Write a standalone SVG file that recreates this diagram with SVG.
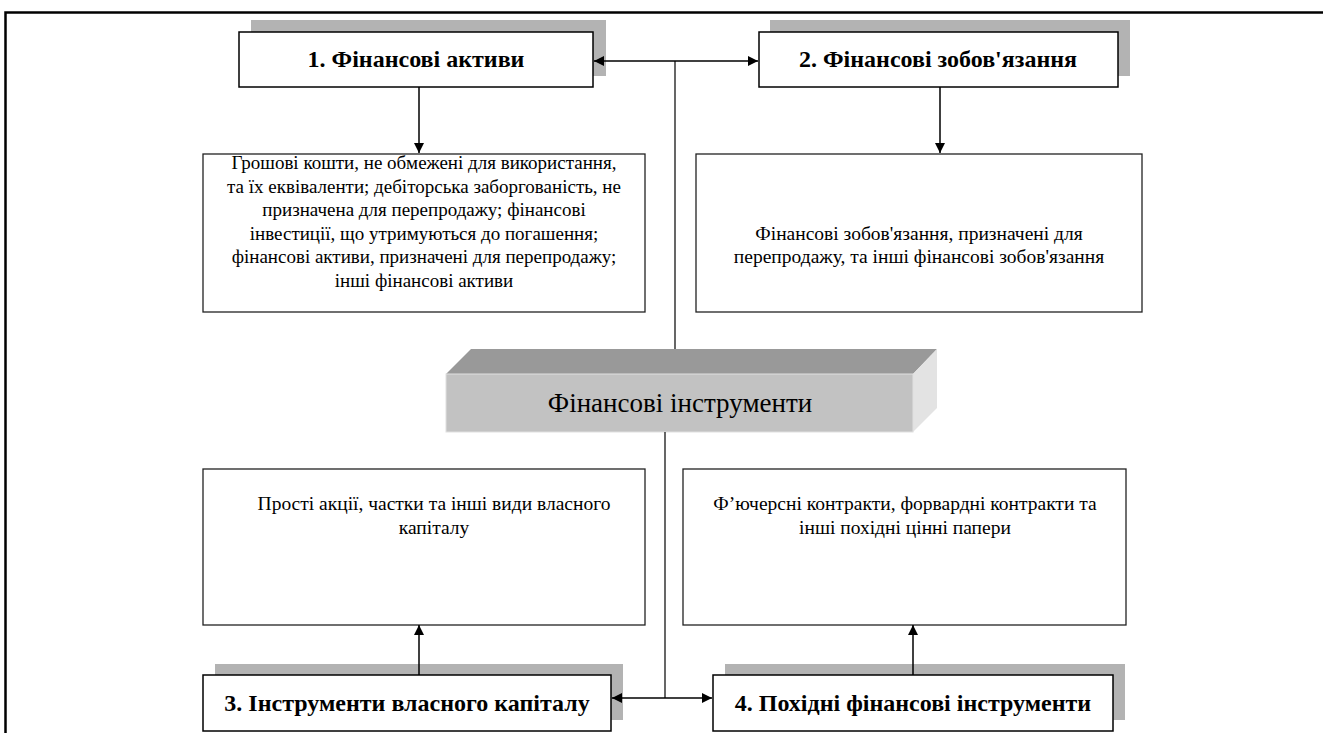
<svg xmlns="http://www.w3.org/2000/svg" width="1323" height="733" viewBox="0 0 1323 733">
<defs>
<style>
.title{font-family:"Liberation Serif","Times New Roman",serif;font-weight:bold;font-size:24px;fill:#000;text-anchor:middle}
.desc{font-family:"Liberation Serif","Times New Roman",serif;font-size:19px;fill:#000;text-anchor:middle}
.desc2{font-family:"Liberation Serif","Times New Roman",serif;font-size:19.5px;fill:#000;text-anchor:middle}
.shadow{fill:#b3b3b3}
.tbox{fill:#fff;stroke:#000;stroke-width:1.5}
.dbox{fill:#fff;stroke:#222;stroke-width:1.3}
.conn{fill:none;stroke:#000;stroke-width:1.5}
.line{fill:none;stroke:#000;stroke-width:1.2}
</style>
<marker id="arr" viewBox="0 0 10 10" refX="10" refY="5" markerWidth="10" markerHeight="10" markerUnits="userSpaceOnUse" orient="auto">
<path d="M0,0 L10,5 L0,10 Z" fill="#000"/>
</marker>
</defs>
<rect width="1323" height="733" fill="#fff"/>
<g id="frame">
<path d="M5.5,733 V12.5 H1323" fill="none" stroke="#000" stroke-width="2.5"/>
</g>
<g id="n1">
<rect class="shadow" x="251" y="20" width="355" height="56"/>
<rect class="tbox" x="239" y="32" width="354" height="55"/>
<text class="title" x="416" y="67">1. Фінансові активи</text>
</g>
<g id="n2">
<rect class="shadow" x="770" y="20" width="360" height="56"/>
<rect class="tbox" x="759" y="32" width="359" height="55"/>
<text class="title" x="938" y="67">2. Фінансові зобов'язання</text>
</g>
<g id="d1">
<rect class="dbox" x="203" y="154" width="442" height="158"/>
<text class="desc" x="424" y="169">Грошові кошти, не обмежені для використання,</text>
<text class="desc" x="424" y="192.6">та їх еквіваленти; дебіторська заборгованість, не</text>
<text class="desc" x="424" y="216.2">призначена для перепродажу; фінансові</text>
<text class="desc" x="424" y="239.8">інвестиції, що утримуються до погашення;</text>
<text class="desc" x="424" y="263.4">фінансові активи, призначені для перепродажу;</text>
<text class="desc" x="424" y="287">інші фінансові активи</text>
</g>
<g id="d2">
<rect class="dbox" x="696" y="154" width="446" height="158"/>
<text class="desc2" x="919" y="240">Фінансові зобов'язання, призначені для</text>
<text class="desc2" x="919" y="263">перепродажу, та інші фінансові зобов'язання</text>
</g>
<g id="center">
<polygon points="446,374 471,349 937,349 913,374" fill="#999999"/>
<polygon points="913,374 937,349 937,408 913,432" fill="#e3e3e3"/>
<rect x="446" y="374" width="467" height="58" fill="#c2c2c2" stroke="#e0e0e0" stroke-width="1"/>
<text x="680" y="412" font-family="Liberation Serif, Times New Roman, serif" font-size="27" text-anchor="middle" fill="#000">Фінансові інструменти</text>
</g>
<g id="d3">
<rect class="dbox" x="203" y="469" width="442" height="156"/>
<text class="desc2" x="434" y="510">Прості акції, частки та інші види власного</text>
<text class="desc2" x="434" y="534">капіталу</text>
</g>
<g id="d4">
<rect class="dbox" x="683" y="469" width="443" height="156"/>
<text class="desc2" x="905" y="510">Ф’ючерсні контракти, форвардні контракти та</text>
<text class="desc2" x="905" y="534">інші похідні цінні папери</text>
</g>
<g id="n3">
<rect class="shadow" x="215" y="664" width="408" height="56"/>
<rect class="tbox" x="203" y="675" width="408" height="56"/>
<text class="title" x="407" y="711">3. Інструменти власного капіталу</text>
</g>
<g id="n4">
<rect class="shadow" x="725" y="664" width="400" height="56"/>
<rect class="tbox" x="713" y="675" width="400" height="56"/>
<text class="title" x="913" y="711">4. Похідні фінансові інструменти</text>
</g>
<g id="connectors">
<path class="conn" d="M675,61 H594" marker-end="url(#arr)"/>
<path class="conn" d="M675,61 H758" marker-end="url(#arr)"/>
<path class="line" d="M675,61 V349"/>
<path class="line" d="M665,432 V698"/>
<path class="conn" d="M665,698 H612" marker-end="url(#arr)"/>
<path class="conn" d="M665,698 H712" marker-end="url(#arr)"/>
<path class="conn" d="M419,87 V153" marker-end="url(#arr)"/>
<path class="conn" d="M940,87 V153" marker-end="url(#arr)"/>
<path class="conn" d="M419,675 V625" marker-end="url(#arr)"/>
<path class="conn" d="M913,675 V625" marker-end="url(#arr)"/>
</g>
</svg>
